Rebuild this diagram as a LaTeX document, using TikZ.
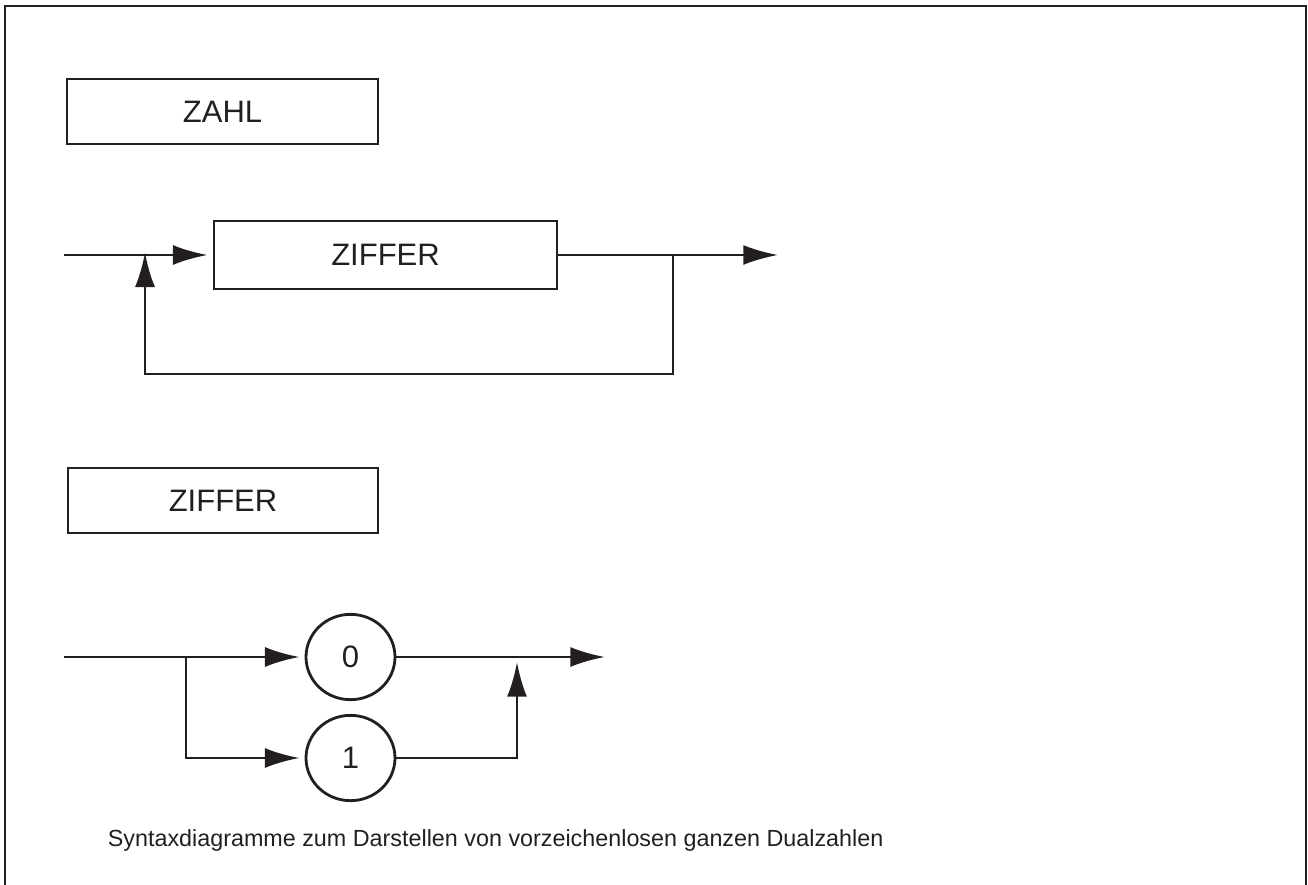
\documentclass[tikz,border=0pt]{standalone}
\usepackage{fontspec}
\setmainfont{Liberation Sans}
\usetikzlibrary{arrows.meta,shapes.geometric}
\definecolor{ink}{RGB}{35,31,32}
\begin{document}
\begin{tikzpicture}[x=0.75pt,y=-0.75pt,color=ink,line width=2.1pt,
    label/.style={font=\fontsize{23.25}{28}\selectfont},
    box/.style={label,draw,rectangle,inner sep=0pt,minimum height=48.75pt},
    digit/.style={label,draw,ellipse,inner sep=0pt,minimum width=66.75pt,minimum height=64pt},
    flow/.style={-{Latex[length=26pt,width=15pt]}},
    into/.style={flow,shorten >=3.75pt}]
    \useasboundingbox (0,0) rectangle (1308,884);
    \draw (5,900) -- (5,6) -- (1306,6) -- (1306,900);
    \node[box,minimum width=233.25pt] (zahlhead) at (222.5,111.5) {ZAHL};
    \node[box,minimum width=257.25pt,minimum height=51pt] (ziffer) at (385.5,255) {ZIFFER};
    \coordinate (in1) at (64,255);
    \coordinate (join1) at (145,255);
    \coordinate (split1) at (673,255);
    \coordinate (loopbot) at (145,374);
    \coordinate (out1) at (778,255);
    \draw[into] (in1) -- (ziffer.west);
    \draw[flow] (ziffer.east) -- (out1);
    \draw[into,shorten >=-2pt] (split1) |- (loopbot) -- (join1);
    \node[box,minimum width=232.5pt] (zifferhead) at (223,500.5) {ZIFFER};
    \foreach \d/\yy in {0/657,1/758}
        \node[digit] (c\d) at (350.5,\yy) {\d};
    \coordinate (in2) at (64,657);
    \coordinate (fork) at (186,657);
    \coordinate (merge) at (517,657);
    \coordinate (out2) at (605,657);
    \draw (in2) -- (fork);
    \draw[into] (fork) -- (c0.west);
    \draw[into] (fork) |- (c1.west);
    \draw[flow] (c0.east) -- (out2);
    \draw[into] (c1.east) -| (merge);
    \node[anchor=base west,font=\fontsize{17.5}{21}\selectfont] (caption) at (102,846)
        {Syntaxdiagramme zum Darstellen von vorzeichenlosen ganzen Dualzahlen};
\end{tikzpicture}
\end{document}
